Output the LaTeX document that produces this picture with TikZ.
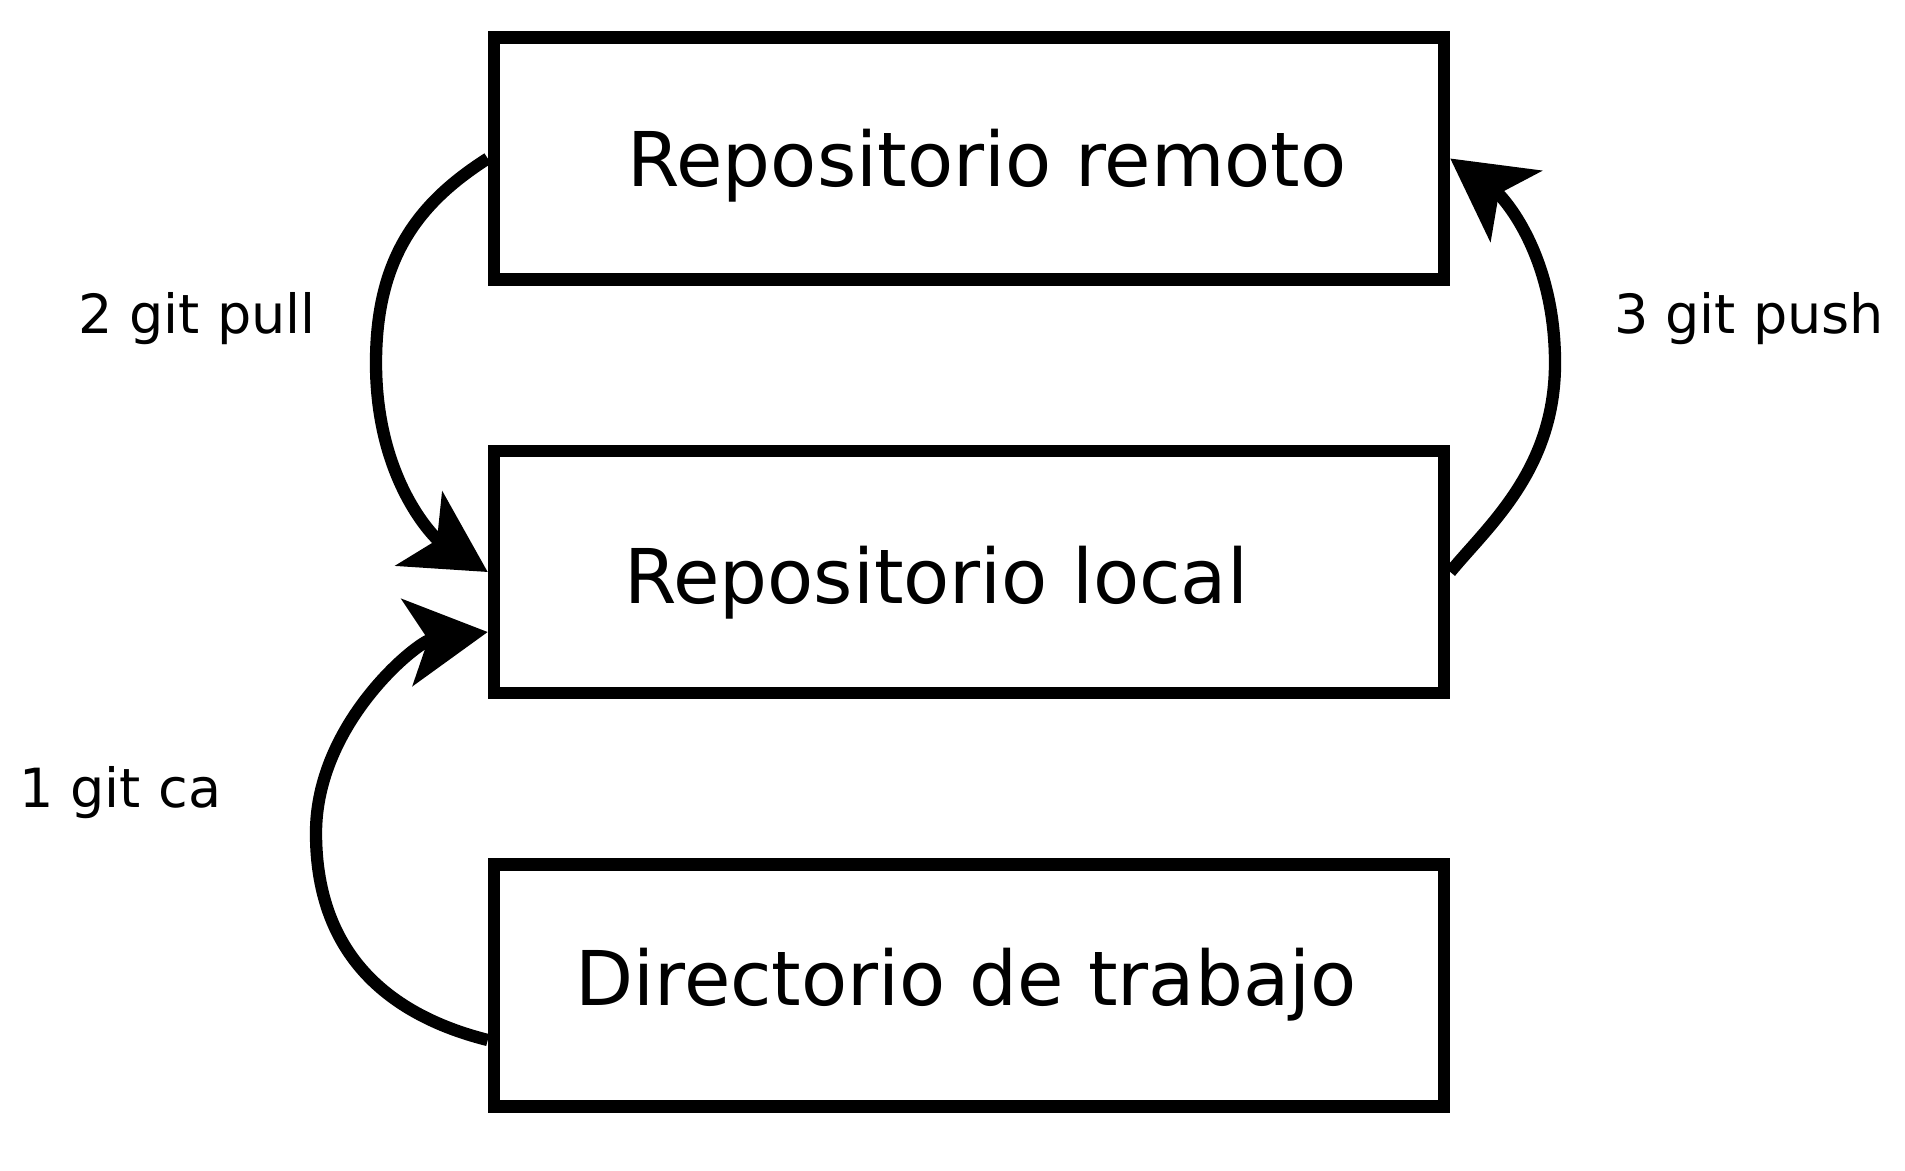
\documentclass[tikz,border=0pt]{standalone}
\usepackage{fontspec}
\setmainfont{DejaVu Sans}
\usetikzlibrary{arrows.meta}
\begin{document}
\begin{tikzpicture}[x=1pt,y=-1pt,
  box/.style={draw, line width=12.5pt, minimum width=950pt, minimum height=242pt,
    inner sep=0pt, text height=55pt, text depth=0pt, font=\fontsize{75.5}{90}\selectfont},
  lbl/.style={anchor=base west, inner sep=0pt, font=\fontsize{54}{64}\selectfont},
  flow/.style={line width=12.3pt, -{Stealth[length=81pt, width=87pt, inset=21pt]}}]
\useasboundingbox (0,0) rectangle (1905,1170);
\node[box] (remote) at (969,158.5) {\hspace*{36pt}Repositorio remoto};
\node[box] (local) at (969,572) {\raisebox{-3.5pt}{Repositorio local\hspace*{66pt}}};
\node[box] (work) at (969,985.5) {\raisebox{8pt}{Directorio de trabajo\hspace*{6pt}}};
\draw[flow] (remote.west) .. controls (418,203) and (376,258) .. (376,363)
  .. controls (376,483) and (437,540) .. (local.west);
\draw[flow] ([yshift=-54.5pt]work.west) .. controls (396,1017) and (316,960) .. (316,833)
  .. controls (316,723) and (418,641) .. ([yshift=-60pt]local.west);
\draw[flow] (local.east) .. controls (1488,526) and (1555,470) .. (1555,363)
  .. controls (1555,253) and (1502,196) .. (remote.east);
\node[lbl] (pull) at (78,333) {2 git pull};
\node[lbl] (ca) at (19,807) {1 git ca};
\node[lbl] (push) at (1614,333) {3 git push};
\end{tikzpicture}
\end{document}
